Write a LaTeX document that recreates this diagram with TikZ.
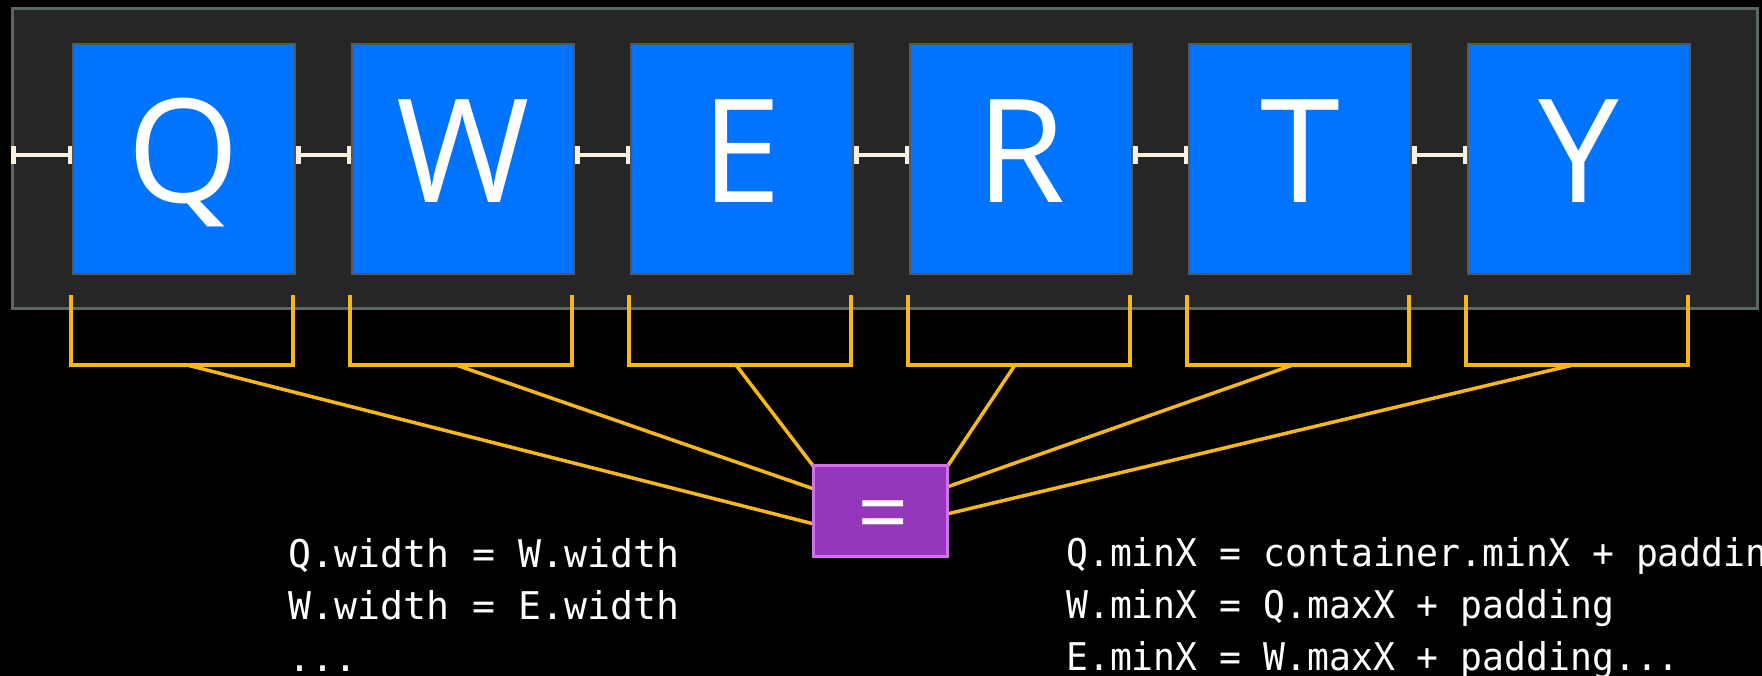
\documentclass[tikz,border=0pt]{standalone}
\usepackage{fontspec}
\setmainfont{Open Sans}
\newfontfamily\monofnt{DejaVu Sans Mono}
\newfontfamily\letfnt{Open Sans}
\usetikzlibrary{arrows.meta,calc}
\definecolor{contfill}{HTML}{262626}
\definecolor{contline}{HTML}{5C6566}
\definecolor{boxfill}{RGB}{0,116,255}
\definecolor{boxline}{HTML}{505860}
\definecolor{cream}{HTML}{FAF0E0}
\definecolor{amber}{RGB}{246,183,24}
\definecolor{eqfill}{RGB}{148,55,187}
\definecolor{eqline}{RGB}{210,112,240}
\tikzset{
  contbox/.style={draw=contline, fill=contfill, line width=3pt, inner sep=0pt},
  letterbox/.style={draw=boxline, fill=boxfill, line width=2pt, inner sep=0pt,
    minimum width=222pt, minimum height=230pt, text=white,
    font=\letfnt\fontsize{144}{150}\selectfont, text height=88pt, text depth=0pt},
  spacer/.style={draw=cream, line width=4.5pt,
    {Bar[width=18pt]}-{Bar[width=18pt]}},
  brk/.style={draw=amber, line width=3.5pt},
  eqbox/.style={draw=eqline, fill=eqfill, line width=3pt, inner sep=0pt,
    minimum width=134pt, minimum height=91pt},
  eqsign/.style={text=white, inner sep=0pt, font=\letfnt\fontsize{90}{92}\selectfont},
  code/.style={text=white, inner sep=0pt, anchor=base west,
    font=\monofnt\fontsize{38.2}{52}\selectfont}
}
\begin{document}
\begin{tikzpicture}[x=1pt,y=-1pt]
\fill[black] (0,0) rectangle (1762,676);
\useasboundingbox (0,0) rectangle (1762,676);

\node[contbox, minimum width=1744.5pt, minimum height=299.5pt] (cont) at (884.75,158.75) {};

\foreach \L [count=\i from 0] in {Q,W,E,R,T,Y} {
  \node[letterbox] (b\i) at ({184+279*\i},159) {\L};
}

\draw[spacer] ($(cont.west |- b0.west)+(0,-4)$) -- ($(b0.west)+(0,-4)$);
\foreach \i [evaluate=\i as \j using int(\i+1)] in {0,...,4} {
  \draw[spacer] ($(b\i.east)+(0,-4)$) -- ($(b\j.west)+(0,-4)$);
}

\foreach \i/\dx in {0/3,1/-7,2/-6,3/-6,4/-7,5/-6} {
  \draw[brk] ($(b\i.south west)+(-1,20)$) -- ++(0,70) -| ($(b\i.south east)+(-3,20)$);
  \coordinate (s\i) at ($(b\i.south)+(\dx,90)$);
}

\path (880.5,511) node[eqbox] (eq) {};
\draw[brk] (s0) -- ($(eq.west)+(2,13)$);
\draw[brk] (s1) -- ($(eq.west)+(2,-22)$);
\draw[brk] (s2) -- ($(eq.north west)+(2,3)$);
\draw[brk] (s3) -- ($(eq.north east)+(-2,3)$);
\draw[brk] (s4) -- ($(eq.east)+(-2,-24)$);
\draw[brk] (s5) -- ($(eq.east)+(-2,3)$);
\node[eqbox, label={[eqsign, xshift=3pt, yshift=-12pt]center:=}] (eqs) at (eq.center) {};

\node[code] (l1) at (288,567) {Q.width = W.width};
\node[code] (l2) at (288,619) {W.width = E.width};
\node[code] (l3) at (288,671) {...};

\node[code] (r1) at (1066,566) {\scalebox{0.953}[1]{Q.minX = container.minX + padding}};
\node[code] (r2) at (1066,618) {\scalebox{0.953}[1]{W.minX = Q.maxX + padding}};
\node[code] (r3) at (1066,670) {\scalebox{0.953}[1]{E.minX = W.maxX + padding...}};
\end{tikzpicture}
\end{document}
